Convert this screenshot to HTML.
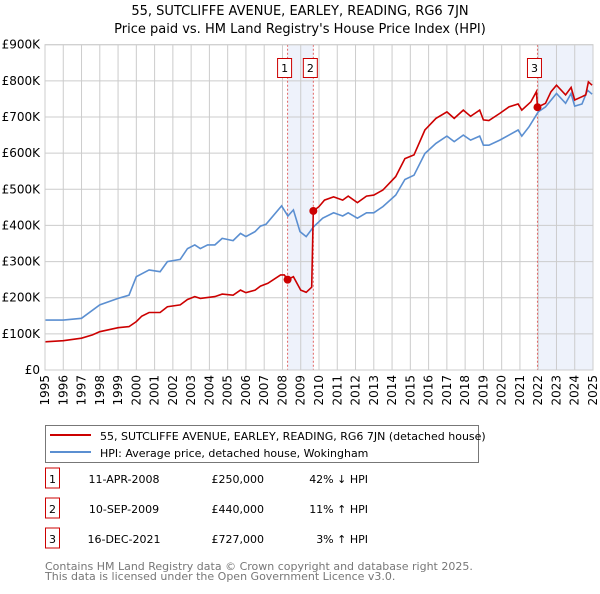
<!DOCTYPE html>
<html><head><meta charset="utf-8"><style>
body{margin:0;background:#fff;font-family:"DejaVu Sans","Liberation Sans",sans-serif;}
svg text{font-family:"DejaVu Sans","Liberation Sans",sans-serif;}
</style></head><body>
<svg id="chart" width="600" height="590" xmlns="http://www.w3.org/2000/svg">
<text x="300" y="15" text-anchor="middle" font-size="13">55, SUTCLIFFE AVENUE, EARLEY, READING, RG6 7JN</text>
<text x="300" y="33" text-anchor="middle" font-size="13">Price paid vs. HM Land Registry's House Price Index (HPI)</text>
<g id="plot"></g>
<g>
<rect x="45.5" y="425.5" width="433" height="37" fill="#fff" stroke="#777"/>
<line x1="50" y1="435" x2="91" y2="435" stroke="#cc0000" stroke-width="2"/>
<text x="100" y="440" font-size="11">55, SUTCLIFFE AVENUE, EARLEY, READING, RG6 7JN (detached house)</text>
<line x1="50" y1="452" x2="91" y2="452" stroke="#5b8fd1" stroke-width="2"/>
<text x="100" y="457" font-size="11">HPI: Average price, detached house, Wokingham</text>
</g>
<g id="table" font-size="11"></g>
<text x="45" y="570" font-size="11" fill="#777">Contains HM Land Registry data © Crown copyright and database right 2025.</text>
<text x="45" y="580" font-size="11" fill="#777">This data is licensed under the Open Government Licence v3.0.</text>
</svg>
<script>
const hpiYears=[1995,1996,1997,1998,1999,1999.6,2000,2000.7,2001.3,2001.7,2002.4,2002.8,2003.2,2003.5,2003.9,2004.3,2004.7,2005.3,2005.7,2006,2006.5,2006.8,2007.1,2007.95,2008.3,2008.6,2008.96,2009.3,2009.7,2010.2,2010.8,2011.3,2011.6,2012.1,2012.6,2013,2013.5,2014.2,2014.7,2015.2,2015.8,2016.4,2017,2017.4,2017.9,2018.3,2018.8,2019,2019.3,2019.9,2020.4,2020.9,2021.1,2021.5,2022,2022.4,2023,2023.5,2023.8,2024,2024.4,2024.7,2024.95];
const hpiValues=[138,138,143,180,198,207,258,277,272,300,306,336,346,336,346,346,364,358,378,369,383,398,403,454,426,443,383,369,396,420,435,426,435,420,435,435,452,484,527,539,599,627,647,632,650,636,647,622,622,636,650,664,647,673,714,728,765,738,765,730,736,774,763];
const priceYears=[1995,1996,1997,1997.6,1998,1999,1999.6,2000,2000.3,2000.7,2001.3,2001.7,2002.4,2002.8,2003.2,2003.5,2004.3,2004.7,2005.3,2005.7,2006,2006.5,2006.8,2007.2,2007.9,2008.1,2008.28,2008.6,2009,2009.3,2009.6,2009.69,2010,2010.3,2010.8,2011.3,2011.6,2012.1,2012.6,2013,2013.5,2014.2,2014.7,2015.2,2015.8,2016.4,2017,2017.4,2017.9,2018.3,2018.8,2019,2019.3,2019.9,2020.4,2020.9,2021.1,2021.6,2021.9,2021.96,2022.4,2022.7,2023,2023.5,2023.8,2024,2024.4,2024.6,2024.75,2024.95];
const priceValues=[78,81,88,97,106,117,120,134,149,159,159,175,180,195,203,198,203,210,207,221,214,221,232,240,263,263,250,258,221,215,229,440,452,470,479,470,481,463,481,484,498,535,585,595,664,696,714,696,719,702,719,692,690,710,728,736,719,742,770,727,738,770,788,761,782,747,756,761,797,788];
const saleLabels=["1","2","3"];
const saleYears=[2008.28,2009.69,2021.96];
const salePrices=[250,440,727];
const saleDates=["11-APR-2008","10-SEP-2009","16-DEC-2021"];
const salePriceText=["£250,000","£440,000","£727,000"];
const saleHpiText=["42% ↓ HPI","11% ↑ HPI","3% ↑ HPI"];
const yTicks=[0,100,200,300,400,500,600,700,800,900];
const yTickLabels=["£0","£100K","£200K","£300K","£400K","£500K","£600K","£700K","£800K","£900K"];
const xTicks=[1995,1996,1997,1998,1999,2000,2001,2002,2003,2004,2005,2006,2007,2008,2009,2010,2011,2012,2013,2014,2015,2016,2017,2018,2019,2020,2021,2022,2023,2024,2025];

const X0=45,X1=593,Y0=370,Y1=44.7;
const xs=y=>X0+(y-1995)/30*(X1-X0);
const ys=v=>Y0-v/900*(Y0-Y1);
const NS="http://www.w3.org/2000/svg";
const plot=document.getElementById('plot');
function mk(tag,attrs,parent){const e=document.createElementNS(NS,tag);for(const k in attrs)e.setAttribute(k,attrs[k]);(parent||plot).appendChild(e);return e;}

// shaded regions
[[saleYears[0],saleYears[1]],[saleYears[2],2025]].forEach((r,i)=>{
 const e=mk('rect',{x:xs(r[0]),y:Y1,width:xs(r[1])-xs(r[0]),height:Y0-Y1,fill:'#eef2fb'});
 
 
});
// grid
yTicks.forEach((t,i)=>{
 const g=mk('line',{x1:X0,x2:X1,y1:ys(t),y2:ys(t),stroke:'#cccccc'});
 
 
 const l=mk('text',{x:40,y:ys(t)+4,'text-anchor':'end','font-size':12});
 l.textContent=yTickLabels[i];
 
 
});
xTicks.forEach(t=>{
 const g=mk('line',{x1:xs(t),x2:xs(t),y1:Y1,y2:Y0,stroke:'#cccccc'});
 
 
 const l=mk('text',{x:0,y:0,'text-anchor':'end','font-size':12,transform:`translate(${xs(t)+4},375) rotate(-90)`});
 l.textContent=t;
 
 
});
// sale vlines
saleYears.forEach((y,i)=>{
 const v=mk('line',{x1:xs(y),x2:xs(y),y1:Y1,y2:Y0,stroke:'#e06666','stroke-dasharray':'2,2'});
 
 
 const b=mk('rect',{x:xs(y)-10,y:58.5,width:14,height:19,fill:'#fff',stroke:'#cc0000'});
 
 
 const t=mk('text',{x:xs(y)-3,y:72,'text-anchor':'middle','font-size':11});
 t.textContent=saleLabels[i];
 
 
});
function path(xsA,vsA,color,name){
 const d=xsA.map((y,i)=>(i?'L':'M')+xs(y).toFixed(1)+','+ys(vsA[i]).toFixed(1)).join('');
 const p=mk('path',{d:d,fill:'none',stroke:color,'stroke-width':1.6});
 
 
}
path(hpiYears,hpiValues,'#5b8fd1','hpi-line');
path(priceYears,priceValues,'#cc0000','property-price-line');
saleYears.forEach((y,i)=>{
 const c=mk('circle',{cx:xs(y),cy:ys(salePrices[i]),r:4,fill:'#cc0000'});
 
 
});
// border
const br=mk('rect',{x:X0,y:Y1,width:X1-X0,height:Y0-Y1,fill:'none',stroke:'#cccccc'});


// table
const tb=document.getElementById('table');
saleLabels.forEach((s,i)=>{
 const yy=483+i*30;
 const r=mk('rect',{x:45.5,y:yy-15,width:14,height:20,fill:'#fff',stroke:'#cc0000'},tb);
 
 
 const a=mk('text',{x:52.5,y:yy,'text-anchor':'middle'},tb);a.textContent=s;
 
 
 const b=mk('text',{x:124,y:yy,'text-anchor':'middle'},tb);b.textContent=saleDates[i];
 
 
 const c=mk('text',{x:264,y:yy,'text-anchor':'end'},tb);c.textContent=salePriceText[i];
 
 
 const d=mk('text',{x:368,y:yy,'text-anchor':'end'},tb);d.textContent=saleHpiText[i];
 
 
});
</script>
</body></html>
